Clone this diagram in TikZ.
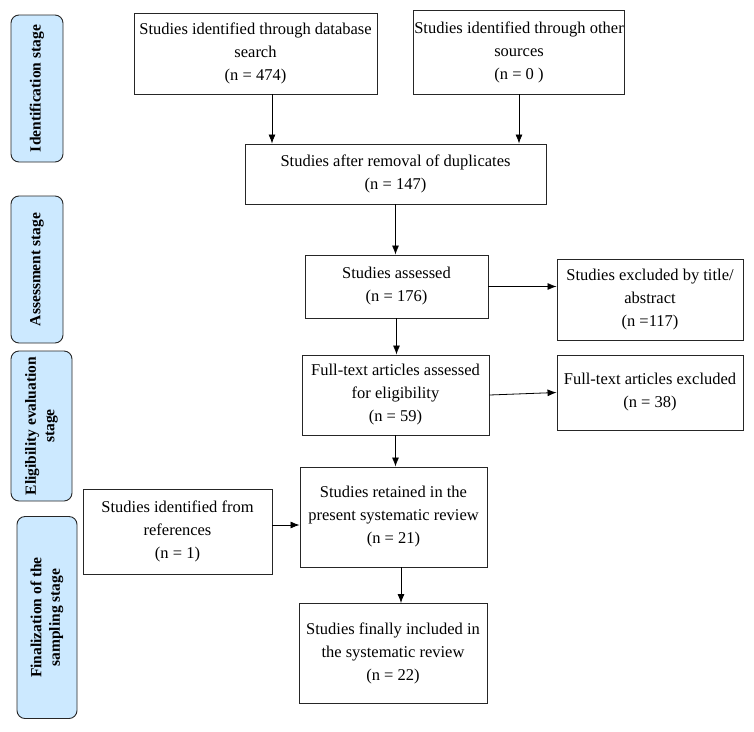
\documentclass[tikz,border=0pt]{standalone}
\usepackage{fontspec}
\setmainfont{Liberation Serif}
\usetikzlibrary{arrows.meta}
\definecolor{stageblue}{RGB}{204,233,255}

\begin{document}
\begin{tikzpicture}[x=1pt,y=-1pt,>={Latex[length=9pt,width=7pt]},
	box/.style={draw=black!85,line width=0.9pt,align=center,inner sep=1pt,
		font=\fontsize{16.5}{23}\selectfont},
	stage/.style={draw=black!85,line width=0.9pt,rounded corners=8pt,fill=stageblue,
		align=center,rotate=90,inner sep=2pt,font=\fontsize{15.5}{18.5}\selectfont\bfseries},
	arr/.style={->,line width=0.8pt}]

	% Fix the page to the size of the figure
	\useasboundingbox (0,0) rectangle (754,731);

	% Draw the stage labels on the left
	\node[stage,minimum width=147,minimum height=52] (s1) at (37,88.5) {Identification stage};
	\node[stage,minimum width=147,minimum height=52] (s2) at (37,269.5) {Assessment stage};
	\node[stage,minimum width=150,minimum height=61] (s3) at (41.5,426) {Eligibility evaluation\\stage};
	\node[stage,minimum width=202,minimum height=60] (s4) at (47,617.5) {Finalization of the\\sampling stage};

	% Draw the identification boxes
	\node[box,minimum width=243,minimum height=81] (dbase) at (255.5,53.5)
		{Studies identified through database\\search\\(n = 474)};
	\node[box,minimum width=210,minimum height=84] (other) at (519,52)
		{Studies identified through other\\sources\\(n = 0 )};

	% Draw the duplicates box
	\node[box,minimum width=301,minimum height=60] (dupl) at (395.5,174)
		{Studies after removal of duplicates\\(n = 147)};

	% Draw the assessment boxes
	\node[box,minimum width=183,minimum height=63] (assess) at (396.5,286.5)
		{Studies assessed\\(n = 176)};
	\node[box,minimum width=186,minimum height=81] (exclA) at (650,299.5)
		{Studies excluded by title/\\abstract\\(n =117)};

	% Draw the eligibility boxes
	\node[box,minimum width=187,minimum height=80] (full) at (395.5,395)
		{Full-text articles assessed\\for eligibility\\(n = 59)};
	\node[box,minimum width=186,minimum height=75] (exclF) at (650,392.5)
		{Full-text articles excluded\\(n = 38)};

	% Draw the final boxes
	\node[box,minimum width=187,minimum height=100] (kept) at (393.5,517)
		{Studies retained in the\\present systematic review\\(n = 21)};
	\node[box,minimum width=189,minimum height=85] (refs) at (177.5,531.5)
		{Studies identified from\\references\\(n = 1)};
	\node[box,minimum width=188,minimum height=100] (final) at (393,653.5)
		{Studies finally included in\\the systematic review\\(n = 22)};

	% Draw the arrows between the boxes
	\draw[arr] ([xshift=16.5pt]dbase.south) -- ([xshift=16.5pt]dbase.south |- dupl.north);
	\draw[arr] (other.south) -- (other.south |- dupl.north);
	\draw[arr] (dupl.south) -- (dupl.south |- assess.north);
	\draw[arr] (assess.east) -- (assess.east -| exclA.west);
	\draw[arr] (assess.south) -- (assess.south |- full.north);
	\draw[arr] (full.east) -- (exclF.west);
	\draw[arr] (full.south) -- (full.south |- kept.north);
	\draw[arr] ([yshift=6.5pt]refs.east) -- ([yshift=6.5pt]refs.east -| kept.west);
	\draw[arr] ([xshift=7.5pt]kept.south) -- ([xshift=7.5pt]kept.south |- final.north);

\end{tikzpicture}
\end{document}
